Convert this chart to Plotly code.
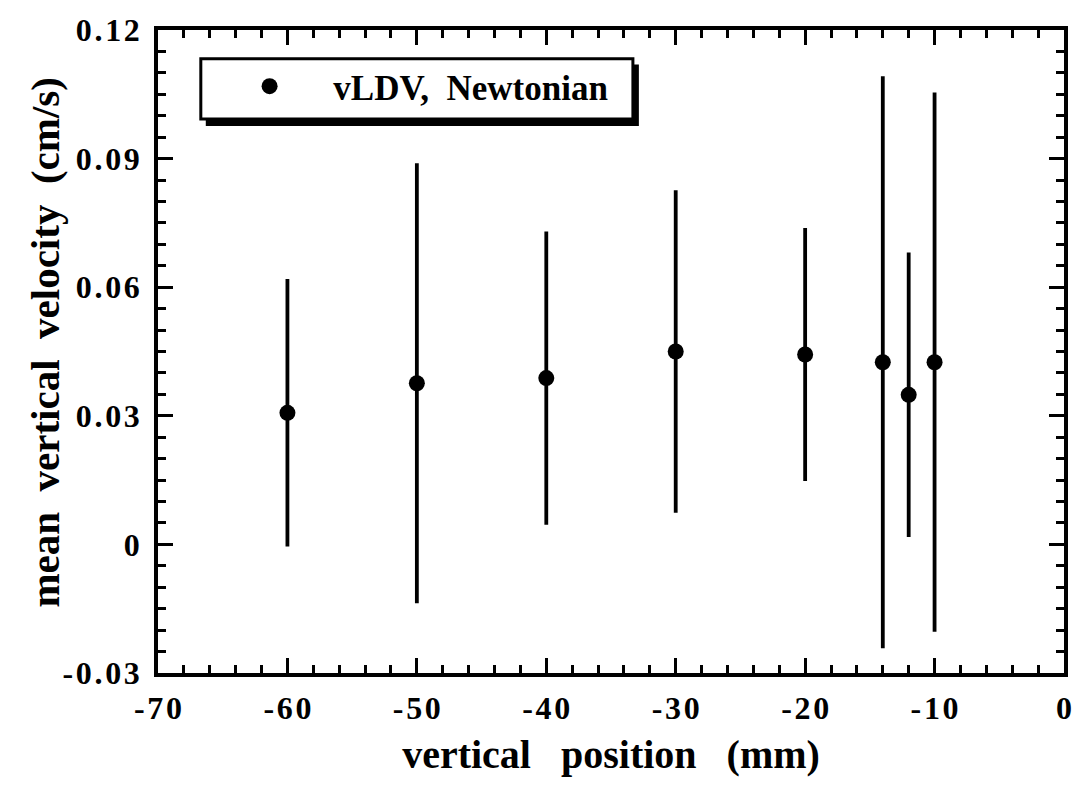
import plotly.graph_objects as go

# Data
positions_mm = [-60, -50, -40, -30, -20, -14, -12, -10]
mean_velocity = [0.0307, 0.0376, 0.0388, 0.0450, 0.0443, 0.0425, 0.0349, 0.0425]
velocity_error = [0.0312, 0.0513, 0.0342, 0.0376, 0.0295, 0.0667, 0.0332, 0.0629]

x_tick_vals = [-70, -60, -50, -40, -30, -20, -10, 0]
x_tick_labels = ["-70", "-60", "-50", "-40", "-30", "-20", "-10", "0"]
y_tick_vals = [-0.03, 0, 0.03, 0.06, 0.09, 0.12]
y_tick_labels = ["-0.03", "0", "0.03", "0.06", "0.09", "0.12"]

series_name = "vLDV,  Newtonian"
x_title = "vertical  position  (mm)"
y_title = "mean  vertical  velocity  (cm/s)"

FONT = "Liberation Serif, Times New Roman, serif"
NB = "\u00a0"
HAIR = "\u200a"


def spaced(s, sep=HAIR):
    # the reference typesets the numbers with wide letter spacing
    return sep.join(list(s))


def keep_spaces(s, n=3):
    return s.replace("  ", NB * n)


fig = go.Figure()
fig.add_trace(go.Scatter(
    x=positions_mm, y=mean_velocity, mode="markers",
    name=NB * 5 + keep_spaces(series_name, 2),
    marker=dict(symbol="circle", size=16, color="black"),
    error_y=dict(type="data", array=velocity_error, visible=True,
                 color="black", thickness=3.8, width=0),
))

axis_common = dict(
    showline=True, linecolor="black", linewidth=3.5, mirror="allticks",
    ticks="inside", ticklen=15, tickwidth=3, tickcolor="black",
    showgrid=False, zeroline=False,
    tickfont=dict(family=FONT, size=32, color="black", weight="bold"),
)

fig.update_layout(
    width=1084, height=788,
    margin=dict(l=158, r=16, t=23, b=115),
    paper_bgcolor="white", plot_bgcolor="white",
    font=dict(family=FONT, color="black", weight="bold"),
    xaxis=dict(
        range=[-70, 0], tickmode="array", tickvals=x_tick_vals,
        ticktext=[spaced(t) for t in x_tick_labels],
        minor=dict(dtick=2, ticks="inside", ticklen=8, tickwidth=3, tickcolor="black", showgrid=False),
        ticklabelstandoff=4,
        title=dict(text=keep_spaces(x_title, 3),
                   font=dict(family=FONT, size=40, color="black", weight="bold"), standoff=16),
        **axis_common,
    ),
    yaxis=dict(
        range=[-0.03, 0.12], tickmode="array", tickvals=y_tick_vals,
        ticktext=[spaced(t) for t in y_tick_labels],
        minor=dict(dtick=0.005, tick0=0, ticks="inside", ticklen=8, tickwidth=3, tickcolor="black", showgrid=False),
        ticklabelstandoff=8,
        **axis_common,
    ),
    annotations=[
        dict(text=keep_spaces(y_title, 2), textangle=-90, showarrow=False,
             xref="paper", yref="paper", x=0, y=(673 - 339) / 650,
             xanchor="center", yanchor="middle", xshift=45 - 158,
             font=dict(family=FONT, size=41, color="black", weight="bold")),
    ],
    showlegend=True,
    legend=dict(
        x=(250 - 158) / 910, y=(673 - 80) / 650, xanchor="left", yanchor="middle",
        bgcolor="rgba(0,0,0,0)", borderwidth=0,
        font=dict(family=FONT, size=35, color="black", weight="bold"),
    ),
    shapes=[
        # legend box shadow
        dict(type="rect", xref="paper", yref="paper", layer="above",
             x0=(206 - 158) / 910, x1=(641 - 158) / 910,
             y0=(673 - 120) / 650, y1=(673 - 58) / 650,
             fillcolor="black", line=dict(width=0)),
        # legend box
        dict(type="rect", xref="paper", yref="paper", layer="above",
             x0=(201 - 158) / 910, x1=(635 - 158) / 910,
             y0=(673 - 113) / 650, y1=(673 - 52) / 650,
             fillcolor="white", line=dict(color="black", width=3)),
    ],
)

fig.write_html("out.html")
